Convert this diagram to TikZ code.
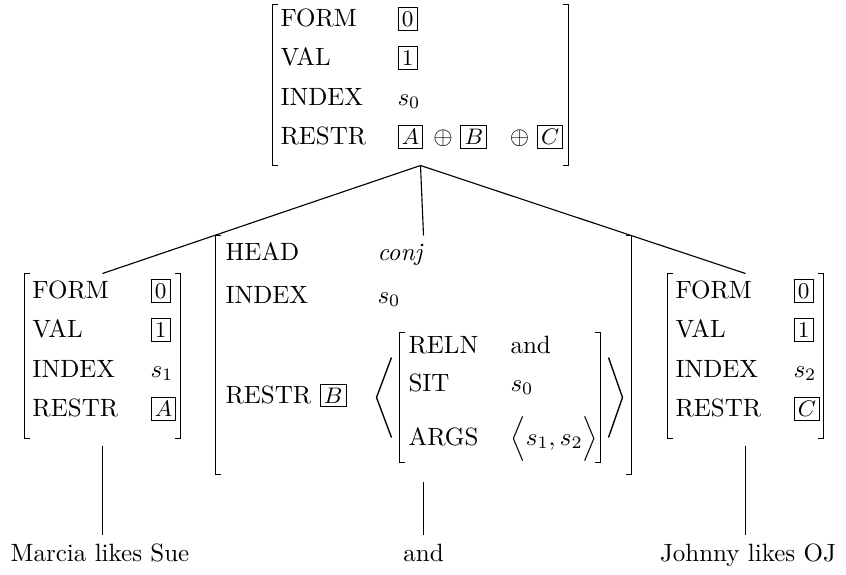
\documentclass[tikz,border=0pt]{standalone}
\renewcommand{\arraystretch}{1.32}
\newcommand{\tagbox}[1]{{\setlength{\fboxsep}{1.3pt}\fbox{\small #1}}}
\tikzset{
	avm/.style n args={2}{minimum width=#1,minimum height=#2,inner sep=0pt},
	txt/.style={anchor=base west,inner sep=0pt},
	brk/.style={line width=0.55pt},
	tree/.style={line width=0.45pt},
	word/.style={anchor=base}
}
\begin{document}
\begin{tikzpicture}[x=0.4pt,y=0.4pt]
	\useasboundingbox (0,0) rectangle (846,-574);
	% frames of the feature structures
	\node[avm={118pt}{64pt}] (top) at (420.5,-85) {};
	\node[avm={62pt}{65.6pt}] (lft) at (102.5,-356) {};
	\node[avm={166pt}{95.2pt}] (mid) at (423.5,-355) {};
	\node[avm={80pt}{51.6pt}] (rel) at (500,-397.5) {};
	\node[avm={62pt}{65.6pt}] (rgt) at (745.5,-356) {};
	% their contents
	\node[txt] (top-val) at (280,-26) {\begin{tabular}[t]{@{}p{46.8pt}@{}l@{}}
		FORM & \tagbox{0}\\ VAL & \tagbox{1}\\ INDEX & $s_0$\\
		RESTR & \tagbox{$A$}\hspace{4pt}$\oplus$\hspace{3pt}\tagbox{$B$}\hspace{9pt}$\oplus$\hspace{3pt}\tagbox{$C$}
	\end{tabular}};
	\node[txt] (lft-val) at (32,-298) {\begin{tabular}[t]{@{}p{47.2pt}@{}l@{}}
		FORM & \tagbox{0}\\ VAL & \tagbox{1}\\ INDEX & $s_1$\\ RESTR & \tagbox{$A$}
	\end{tabular}};
	\node[txt] (rgt-val) at (675,-298) {\begin{tabular}[t]{@{}p{47.2pt}@{}l@{}}
		FORM & \tagbox{0}\\ VAL & \tagbox{1}\\ INDEX & $s_2$\\ RESTR & \tagbox{$C$}
	\end{tabular}};
	\node[txt] (mid-val) at (225,-260) {\begin{tabular}[t]{@{}p{60.8pt}@{}l@{}}
		HEAD & \textit{conj}\\[1.4pt] INDEX & $s_0$\\[24.2pt] RESTR \tagbox{$B$} &
	\end{tabular}};
	\node[txt] (rel-val) at (408,-353) {\renewcommand{\arraystretch}{1.27}%
		\begin{tabular}[t]{@{}p{40.8pt}@{}l@{}}
		RELN & and\\ SIT & $s_0$\\[5.5pt] ARGS & $\Big\langle s_1, s_2\Big\rangle$
	\end{tabular}};
	% square brackets
	\foreach \n in {top,lft,mid,rel,rgt} {
		\draw[brk] ([xshift=2.2pt]\n.north west) -| (\n.south west) -- ++(2.2pt,0);
		\draw[brk] ([xshift=-2.2pt]\n.north east) -| (\n.south east) -- ++(-2.2pt,0);
	}
	% list brackets round the relation
	\draw[brk] ([xshift=-3.2pt,yshift=-10pt]rel.north west) -- ([xshift=-9.2pt]rel.west)
		-- ([xshift=-3.2pt,yshift=10pt]rel.south west);
	\draw[brk] ([xshift=3.2pt,yshift=-10pt]rel.north east) -- ([xshift=8.8pt]rel.east)
		-- ([xshift=3.2pt,yshift=10pt]rel.south east);
	% branches
	\draw[tree] (top.south) -- (lft.north);
	\draw[tree] (top.south) -- (mid.north);
	\draw[tree] (top.south) -- (rgt.north);
	% the words
	\node[word] (w-left) at (100,-561) {Marcia likes Sue};
	\node[word] (w-mid) at (423.5,-561) {and};
	\node[word] (w-right) at (748,-561) {Johnny likes OJ};
	\draw[tree,shorten <=3pt] (lft.south) -- (lft.south |- w-left.north);
	\draw[tree,shorten <=3pt] (mid.south) -- (mid.south |- w-mid.north);
	\draw[tree,shorten <=3pt] (rgt.south) -- (rgt.south |- w-right.north);
\end{tikzpicture}
\end{document}
